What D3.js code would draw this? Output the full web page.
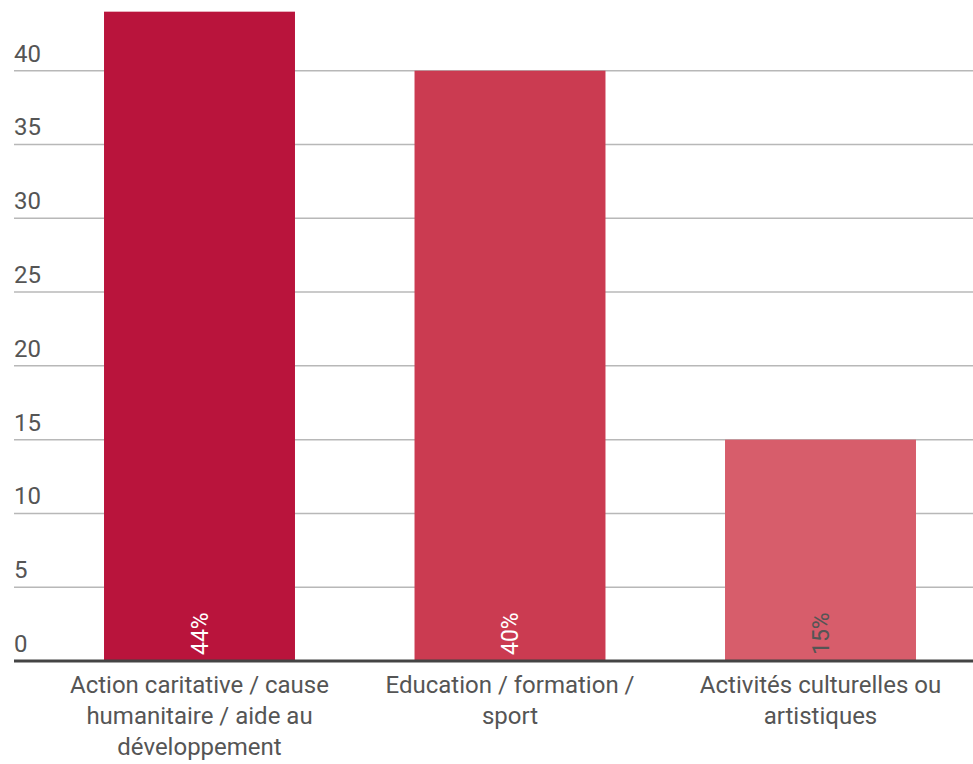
<!DOCTYPE html>
<html>
<head>
<meta charset="utf-8">
<script src="https://cdn.jsdelivr.net/npm/d3@7"></script>
<style>
  html, body { margin: 0; padding: 0; background: #fff; }
  svg { display: block; }
  text { font-family: "Roboto", "Noto Sans", sans-serif; }
</style>
</head>
<body>
<svg id="chart" width="973" height="764"></svg>
<script>
// Domaines d'engagement (en %)
const categories = [
  "Action caritative / cause\nhumanitaire / aide au\ndéveloppement",
  "Education / formation /\nsport",
  "Activités culturelles ou\nartistiques"
];
const values = [44, 40, 15];
const barColors = ["#b9143c", "#cb3b51", "#d75d6b"];
const valueLabelColors = ["#ffffff", "#ffffff", "#555555"];
const yTicks = [0, 5, 10, 15, 20, 25, 30, 35, 40];

const gridLeft = 14, gridRight = 973;
const svg = d3.select("#chart");

const x = d3.scaleBand()
  .domain(categories)
  .range([44.25, 975.75])
  .paddingInner(0.385)
  .paddingOuter(0.1925);

const y = d3.scaleLinear()
  .domain([0, 40])
  .range([661, 70.7]);

// Horizontal grid lines and their labels
const grid = svg.append("g");
grid.selectAll("line")
  .data(yTicks.filter(d => d !== 0))
  .join("line")
  .attr("x1", gridLeft).attr("x2", gridRight)
  .attr("y1", d => y(d)).attr("y2", d => y(d))
  .attr("stroke", "#b8b8b8")
  .attr("stroke-width", 1.5);

grid.selectAll("text")
  .data(yTicks)
  .join("text")
  .attr("x", gridLeft)
  .attr("y", d => y(d) - 9)
  .attr("fill", "#555")
  .attr("font-size", 24)
  .text(d => d);

// Bars
svg.append("g").selectAll("rect")
  .data(values)
  .join("rect")
  .attr("x", (d, i) => x(categories[i]))
  .attr("width", x.bandwidth())
  .attr("y", d => y(d))
  .attr("height", d => y(0) - y(d))
  .attr("fill", (d, i) => barColors[i]);

// Value labels, rotated inside the bars
svg.append("g").selectAll("text")
  .data(values)
  .join("text")
  .attr("transform", (d, i) =>
    `translate(${x(categories[i]) + x.bandwidth() / 2},${y(0) - 6}) rotate(-90)`)
  .attr("dy", "0.35em")
  .attr("fill", (d, i) => valueLabelColors[i])
  .attr("font-size", 23)
  .text(d => d + "%");

// Baseline
svg.append("line")
  .attr("x1", gridLeft).attr("x2", gridRight)
  .attr("y1", y(0)).attr("y2", y(0))
  .attr("stroke", "#444")
  .attr("stroke-width", 3);

// Category labels, centred under each bar
const cat = svg.append("g").selectAll("text")
  .data(categories)
  .join("text")
  .attr("text-anchor", "middle")
  .attr("fill", "#555")
  .attr("font-size", 24)
  .attr("x", d => x(d) + x.bandwidth() / 2)
  .attr("y", 693);
cat.selectAll("tspan")
  .data(d => d.split("\n"))
  .join("tspan")
  .attr("x", function () { return this.parentNode.getAttribute("x"); })
  .attr("dy", (d, i) => i === 0 ? 0 : 31)
  .text(d => d);
</script>
</body>
</html>
